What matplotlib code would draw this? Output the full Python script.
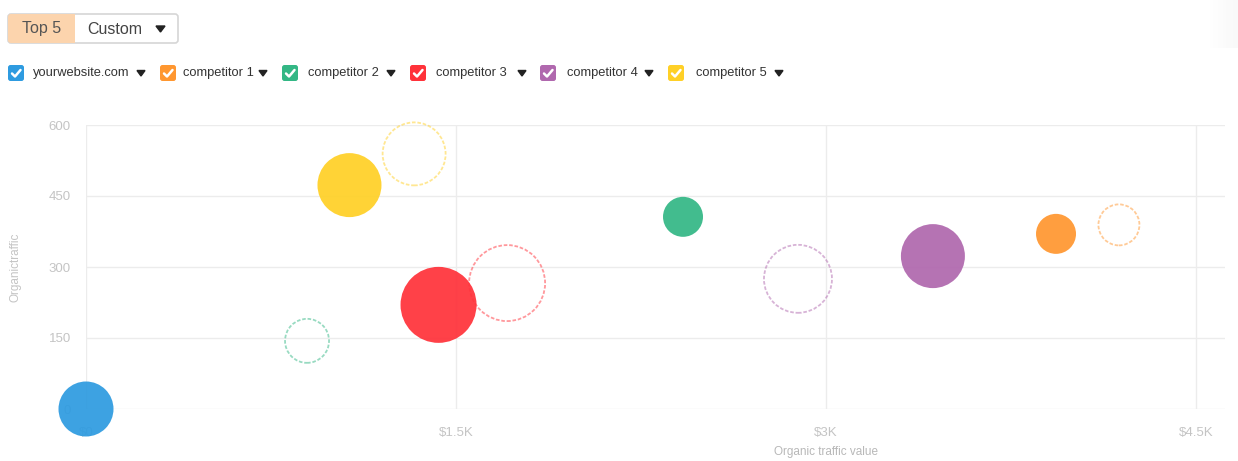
import numpy as np
import matplotlib.pyplot as plt
from matplotlib.patches import FancyBboxPatch, Rectangle, Polygon
from matplotlib.lines import Line2D

plt.rcParams['font.family'] = ['Liberation Sans', 'DejaVu Sans']

# series: name, colour, current point and previous (dashed) point
names = ["yourwebsite.com", "competitor 1", "competitor 2", "competitor 3", "competitor 4", "competitor 5"]
colors = ["#2e9be0", "#ff9730", "#33b785", "#ff323a", "#b068ae", "#ffd027"]

# organic traffic value ($), organic traffic, keywords (bubble size)
cur_value = [0, 3932, 2420, 1429, 3433, 1068]
cur_traffic = [0, 370, 406, 220, 323, 473]
cur_keywords = [550, 400, 400, 760, 640, 640]

prev_value = [None, 4187, 896, 1707, 2886, 1330]
prev_traffic = [None, 389, 144, 266, 275, 539]
prev_keywords = [None, 410, 440, 760, 680, 630]

x_ticks = [0, 1500, 3000, 4500]
x_ticklabels = ["$0", "$1.5K", "$3K", "$4.5K"]
y_ticks = [0, 150, 300, 450, 600]

W, H = 1238, 461
DPI = 100
fig = plt.figure(figsize=(W / DPI, H / DPI), dpi=DPI)
fig.patch.set_facecolor("white")


def size_pts(k):
    # bubble diameter in px = keywords / 10
    d_pt = (k / 10) * 72 / DPI
    return d_pt ** 2


ax = fig.add_axes([86 / W, 1 - 409 / H, (1225 - 86) / W, (409 - 125) / H])
ax.set_xlim(0, 4617)
ax.set_ylim(0, 600)
ax.set_axisbelow(True)
for s in ax.spines.values():
    s.set_visible(False)
ax.grid(True, color="#ececec", linewidth=1.0)
ax.set_xticks(x_ticks)
ax.set_xticklabels(x_ticklabels)
ax.set_yticks(y_ticks)
ax.tick_params(length=0, colors="#c4c4c4", labelsize=9.5)
ax.tick_params(axis="x", pad=13)
ax.tick_params(axis="y", pad=11)
ax.set_xlabel("Organic traffic value", color="#b8b8b8", fontsize=8.5)
ax.set_ylabel("Organictraffic", color="#c4c4c4", fontsize=8.5)
ax.xaxis.set_label_coords((826 - 86) / 1139, (409 - 452) / 284)
ax.yaxis.set_label_coords((15 - 86) / 1139, 0.5)
ax.xaxis.label.set_va("center")
ax.yaxis.label.set_va("center")

for i in range(len(names)):
    if prev_value[i] is not None:
        ax.scatter([prev_value[i]], [prev_traffic[i]], s=size_pts(prev_keywords[i]),
                   facecolors="none", edgecolors=colors[i], linewidths=1.3,
                   linestyles=(0, (2, 1)), alpha=0.5, zorder=2, clip_on=False)
for i in range(len(names)):
    ax.scatter([cur_value[i]], [cur_traffic[i]], s=size_pts(cur_keywords[i]),
               color=colors[i], edgecolors="none", alpha=0.93, zorder=3, clip_on=False)

# UI overlay in pixel coordinates
ui = fig.add_axes([0, 0, 1, 1], zorder=10)
ui.set_xlim(0, W)
ui.set_ylim(H, 0)
ui.axis("off")
ui.patch.set_alpha(0)

# button group
ui.add_patch(FancyBboxPatch((8, 14), 170, 29, boxstyle="round,pad=0,rounding_size=3",
                            facecolor="white", edgecolor="#d6d6d6", linewidth=1.2))
ui.add_patch(FancyBboxPatch((8, 14), 67, 29, boxstyle="round,pad=0,rounding_size=3",
                            facecolor="#fcd4ad", edgecolor="none"))
ui.add_patch(Rectangle((70, 14), 5, 29, facecolor="#fcd4ad", edgecolor="none"))
ui.text(42, 29, "Top 5", fontsize=11.5, color="#555555", ha="center", va="center")
ui.text(87, 29, "Custom", fontsize=11.5, color="#444444", ha="left", va="center")
ui.add_patch(Polygon([(156, 26), (165, 26), (160.5, 32)], closed=True, color="#222222"))

# legend row
box_x = [8, 160, 282, 410, 540, 668]
text_gap = [25, 23, 26, 26, 27, 28]
arrow_x = [141, 263, 391, 522, 649, 779]
ly = 73
for i in range(len(names)):
    bx = box_x[i]
    ui.add_patch(FancyBboxPatch((bx, ly - 8), 16, 16, boxstyle="round,pad=0,rounding_size=2.5",
                                facecolor=colors[i], edgecolor="none"))
    ui.add_line(Line2D([bx + 4, bx + 7, bx + 12.5], [ly + 0.5, ly + 3.5, ly - 3],
                       color="white", linewidth=1.8, solid_capstyle="round",
                       solid_joinstyle="round"))
    ui.text(bx + text_gap[i], ly, names[i], fontsize=9.3, color="#333333",
            ha="left", va="center")
    ax_ = arrow_x[i]
    ui.add_patch(Polygon([(ax_ - 4, ly - 2.5), (ax_ + 4, ly - 2.5), (ax_, ly + 3)],
                         closed=True, color="#222222"))

# faint shadow at top right corner
grad = np.linspace(0, 1, 30).reshape(1, -1)
ui.imshow(grad, extent=(1208, 1238, 48, 0), cmap="Greys", vmin=0, vmax=12,
          aspect="auto", alpha=0.6)

fig.savefig("out.png", dpi=DPI)
